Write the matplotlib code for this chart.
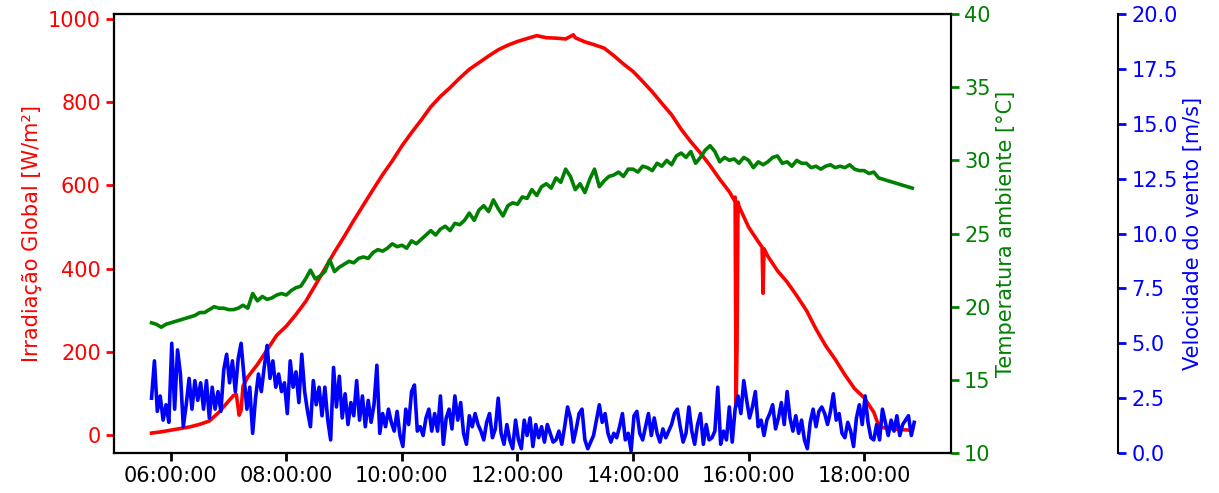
import matplotlib
matplotlib.use("Agg")
import matplotlib.pyplot as plt
import matplotlib.dates as mdates
import pandas as pd

DAY = "2021-01-01 "

# Irradiância global [W/m²] (amostras)
irr_time = [
    "05:40", "05:50", "06:00", "06:10", "06:20", "06:30", "06:40", "06:50",
    "07:00", "07:05", "07:08", "07:11", "07:13", "07:15", "07:20", "07:30",
    "07:40", "07:50", "08:00", "08:10", "08:20", "08:30", "08:40", "08:50",
    "09:00", "09:10", "09:20", "09:30", "09:40", "09:50", "10:00", "10:10",
    "10:20", "10:30", "10:40", "10:50", "11:00", "11:10", "11:20", "11:30",
    "11:40", "11:50", "12:00", "12:10", "12:20", "12:30", "12:40", "12:50",
    "12:58", "13:00", "13:10", "13:20", "13:30", "13:40", "13:50", "14:00",
    "14:10", "14:20", "14:30", "14:40", "14:50", "15:00", "15:10", "15:20",
    "15:30", "15:40", "15:45", "15:46", "15:47", "15:48", "15:49", "15:50",
    "16:00", "16:10", "16:14", "16:15", "16:16", "16:20", "16:30", "16:40",
    "16:50", "17:00", "17:10", "17:20", "17:30", "17:40", "17:50", "18:00",
    "18:10", "18:14", "18:17", "18:20", "18:30", "18:40", "18:50",
]
irr_val = [
    5, 8, 12, 16, 20, 26, 34, 55,
    82, 95, 98, 48, 60, 118, 140, 170,
    205, 240, 262, 290, 321, 360, 400, 440,
    477, 516, 553, 590, 626, 659, 695, 727,
    757, 789, 814, 835, 858, 879, 895, 911,
    926, 937, 946, 953, 960, 955, 954, 952,
    962, 955, 945, 938, 930, 912, 892, 874,
    850, 825, 797, 770, 735, 705, 678, 648,
    615, 585, 565, 572, 70, 212, 560, 550,
    500, 465, 452, 341, 448, 430, 395, 368,
    335, 300, 255, 215, 182, 145, 112, 90,
    55, 30, 20, 18, 15, 13, 12,
]

# Temperatura ambiente [°C], a cada 5 min a partir de 05:40
temp_start = "05:40"
temp_val = [
    18.9, 18.8, 18.6, 18.8, 18.9, 19.0, 19.1, 19.2, 19.3, 19.4, 19.6, 19.6,
    19.8, 20.0, 19.9, 19.9, 19.8, 19.8, 19.9, 20.1, 19.9, 20.9, 20.4, 20.7,
    20.5, 20.6, 20.8, 20.9, 20.8, 21.1, 21.3, 21.4, 21.9, 22.5, 21.9, 22.1,
    22.4, 23.2, 22.4, 22.7, 22.9, 23.1, 23.0, 23.3, 23.4, 23.3, 23.7, 23.9,
    23.8, 24.0, 24.3, 24.1, 24.2, 24.0, 24.5, 24.3, 24.6, 24.9, 25.2, 24.9,
    25.3, 25.5, 25.2, 25.7, 25.6, 25.9, 26.4, 25.9, 26.6, 26.9, 26.5, 27.3,
    26.7, 26.2, 26.9, 27.1, 27.0, 27.5, 27.4, 28.0, 27.6, 28.2, 28.4, 28.1,
    28.8, 28.5, 29.4, 28.9, 28.0, 28.4, 27.8, 28.7, 29.4, 28.2, 28.6, 28.9,
    29.0, 29.2, 28.9, 29.4, 29.4, 29.2, 29.6, 29.5, 29.3, 29.8, 29.6, 30.0,
    29.7, 30.3, 30.5, 30.2, 30.6, 29.8, 30.2, 30.7, 31.0, 30.6, 29.9, 30.2,
    30.0, 30.1, 29.8, 30.2, 30.0, 29.5, 29.9, 29.7, 29.9, 30.2, 30.3, 29.8,
    29.9, 29.6, 30.0, 29.8, 29.8, 29.5, 29.6, 29.4, 29.6, 29.7, 29.5, 29.6,
    29.5, 29.7, 29.4, 29.3, 29.3, 29.1, 29.2, 28.8, 28.7, 28.6, 28.5, 28.4,
    28.3, 28.2, 28.1,
]

# Velocidade do vento [m/s], a cada 3 min a partir de 05:40
wind_start = "05:40"
wind_val = [
    2.5, 4.2, 1.9, 2.6, 1.5, 2.2, 1.4, 5.0, 2.0, 4.7, 3.6, 1.2, 2.2, 3.4, 2.0, 3.3,
    2.4, 3.2, 2.0, 3.3, 1.6, 3.0, 2.0, 2.8, 1.9, 3.8, 4.5, 3.2, 4.2, 2.8, 4.3, 5.0,
    3.5, 2.0, 3.0, 0.9, 2.5, 3.6, 2.8, 3.9, 4.9, 3.4, 4.2, 3.0, 3.6, 2.8, 3.2,
    1.8, 4.2, 3.0, 3.7, 2.3, 4.5, 2.8, 1.9, 1.2, 3.3, 2.2, 3.0, 1.7, 3.0, 1.5, 0.6,
    3.9, 2.1, 3.5, 1.6, 2.7, 1.3, 2.3, 1.7, 3.3, 1.5, 2.6, 1.2, 2.4, 1.4, 2.2, 4.0,
    0.9, 1.8, 1.2, 2.0, 1.4, 1.0, 1.9, 0.8, 0.3, 2.0, 1.3, 2.8, 3.1, 1.0,
    1.2, 0.8, 1.6, 2.0, 1.0, 1.8, 1.0, 2.6, 0.4, 1.6, 2.0, 1.1, 2.6, 1.5, 2.3, 0.9,
    0.4, 1.7, 1.2, 1.8, 1.3, 1.0, 0.6, 1.4, 1.8, 0.7, 1.1, 2.5, 0.9, 0.4, 1.3, 0.6,
    0.2, 1.5, 0.6, 0.2, 1.5, 0.8, 1.6, 0.3, 1.3, 0.7, 1.2, 0.5, 1.3, 0.9, 0.5,
    0.6, 1.0, 0.4, 1.2, 2.1, 1.6, 0.5, 1.1, 1.8, 2.0, 0.6, 0.2, 0.5, 0.8, 1.5, 2.2,
    1.4, 1.8, 0.9, 0.5, 0.9, 0.7, 1.2, 1.8, 0.6, 0.9, 0.1, 1.7, 1.9, 0.9, 0.6, 1.2,
    1.8, 0.8, 1.6, 0.9, 0.5, 1.1, 0.7, 1.0, 1.3, 1.8, 2.0, 1.2, 0.5, 0.9, 2.1,
    1.0, 0.4, 1.3, 1.8, 0.4, 1.3, 0.6, 0.7, 1.0, 3.0, 0.4, 1.0, 0.6, 2.1, 0.5, 2.0,
    2.6, 1.8, 3.3, 2.4, 1.6, 2.1, 2.8, 1.2, 1.5, 0.8, 1.5, 1.8, 2.2, 1.1, 1.6, 2.3,
    1.3, 2.8, 1.6, 1.0, 1.7, 0.9, 1.5, 0.6, 0.2, 1.4, 2.0, 1.2, 1.9, 2.1, 1.8,
    1.3, 1.9, 2.7, 1.5, 1.8, 0.9, 0.7, 1.4, 1.0, 0.3, 1.6, 2.2, 1.3, 2.6, 1.4, 0.7,
    0.6, 1.3, 0.6, 2.0, 1.4, 0.8, 1.5, 1.0, 1.7, 0.8, 1.3, 1.5, 1.7, 0.8, 1.4,
]

t_irr = pd.to_datetime([DAY + t for t in irr_time])
t_temp = pd.date_range(DAY + temp_start, periods=len(temp_val), freq="5min")
t_wind = pd.date_range(DAY + wind_start, periods=len(wind_val), freq="3min")

FS = 15
plt.rcParams["font.family"] = "DejaVu Sans"

fig = plt.figure(figsize=(12.19, 4.93), dpi=100)
ax = fig.add_axes([0.0935, 0.081, 0.6865, 0.8906])
ax2 = ax.twinx()
ax3 = ax.twinx()
ax3.spines["right"].set_position(("axes", 1.2))

ax.plot(t_irr, irr_val, color="red", lw=2.6)
ax2.plot(t_temp, temp_val, color="green", lw=2.6)
ax3.plot(t_wind, wind_val, color="blue", lw=2.6)

ax.set_ylim(-43, 1012)
ax2.set_ylim(10, 40)
ax3.set_ylim(0, 20)
ax.set_xlim(pd.Timestamp(DAY + "05:01"), pd.Timestamp(DAY + "19:30"))

ax.set_ylabel("Irradiação Global [W/m²]", color="red", fontsize=FS)
ax2.set_ylabel("Temperatura ambiente [°C]", color="green", fontsize=FS)
ax3.set_ylabel("Velocidade do vento [m/s]", color="blue", fontsize=FS)

ax.xaxis.set_major_locator(mdates.HourLocator(byhour=range(6, 20, 2)))
ax.xaxis.set_major_formatter(mdates.DateFormatter("%H:%M:%S"))

for a, c in [(ax, "red"), (ax2, "green"), (ax3, "blue")]:
    a.tick_params(axis="y", colors=c, labelsize=FS, length=6, width=2)
    for s in a.spines.values():
        s.set_linewidth(1.5)
ax.tick_params(axis="x", labelsize=FS, length=6, width=2)
ax3.set_yticks([0, 2.5, 5, 7.5, 10, 12.5, 15, 17.5, 20])
ax3.set_yticklabels(["0.0", "2.5", "5.0", "7.5", "10.0", "12.5", "15.0", "17.5", "20.0"])

fig.savefig("out.png", dpi=100)
